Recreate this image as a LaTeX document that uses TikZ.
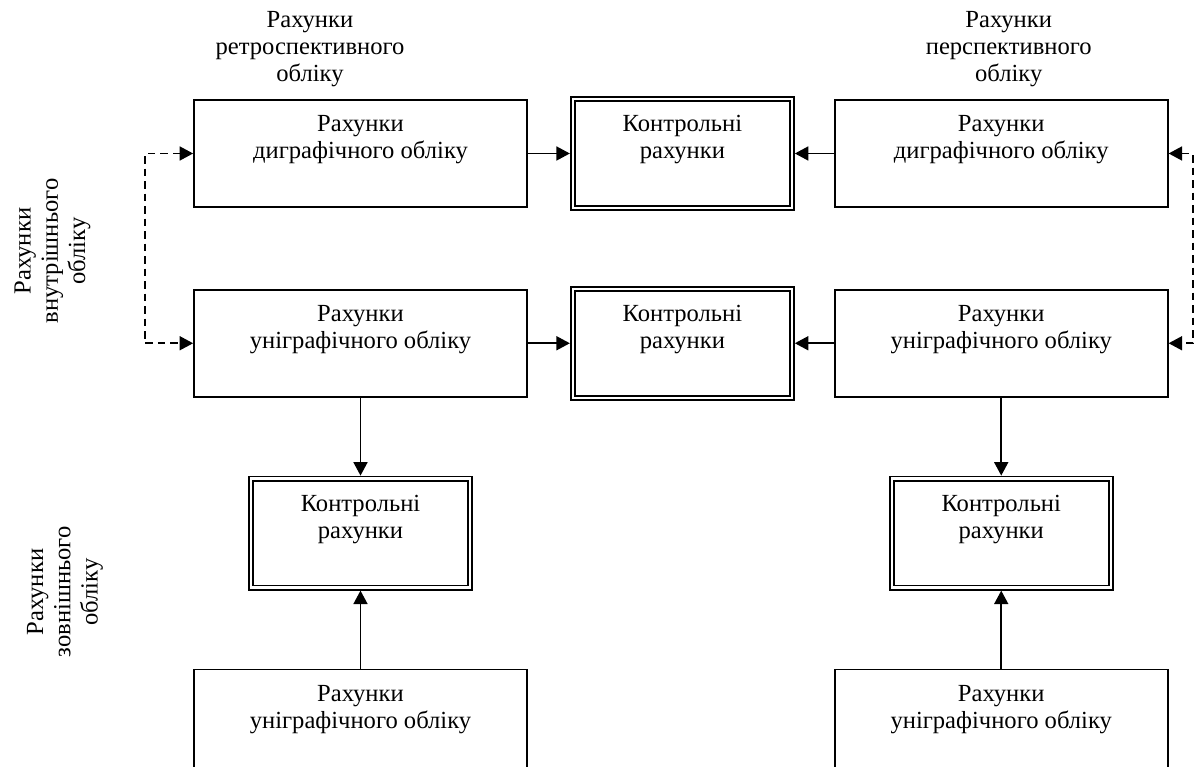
\documentclass[tikz,border=0pt]{standalone}
\usepackage{fontspec}
\setmainfont{Liberation Serif}
\usepackage{tikz}
\usetikzlibrary{arrows.meta}
\usetikzlibrary{positioning}
\tikzset{
  acctbox/.style={
    draw,
    line width=1pt,
    minimum width=6.66cm,
    minimum height=2.14cm
  },
  ctrlbox/.style={
    draw,
    line width=1pt,
    double,
    double distance=1.4pt,
    outer sep=1.7pt,
    minimum width=4.38cm,
    minimum height=2.18cm
  },
  myarrow/.style={
    line width=1pt,
    -{Triangle[length=0.27cm, width=0.28cm]}
  },
  dasharrow/.style={
    line width=1pt,
    dash pattern=on 0.15cm off 0.1cm,
    {Triangle[length=0.27cm, width=0.28cm]}-{Triangle[length=0.27cm, width=0.28cm]}
  }
}

\begin{document}
\begin{tikzpicture}[font=\fontsize{14}{15.5}\selectfont]

\useasboundingbox (0,0) rectangle (23.98,-15.34);

% Retrospective accounts
\node [acctbox] at (7.21,-3.07) (retrodi)
    {\begin{tabular}{c} Рахунки \\ диграфічного обліку \\ \mbox{} \end{tabular}};

\node [ctrlbox,
    right=0.84cm of retrodi
]  (ctrltop) {\begin{tabular}{c} Контрольні \\ рахунки \\ \mbox{} \end{tabular}};

\node [acctbox,
    right=0.78cm of ctrltop
]  (perspdi) {\begin{tabular}{c} Рахунки \\ диграфічного обліку \\ \mbox{} \end{tabular}};

\node [acctbox,
    below=1.62cm of retrodi
]  (retrouni) {\begin{tabular}{c} Рахунки \\ уніграфічного обліку \\ \mbox{} \end{tabular}};

\node [ctrlbox,
    right=0.84cm of retrouni
]  (ctrlmid) {\begin{tabular}{c} Контрольні \\ рахунки \\ \mbox{} \end{tabular}};

\node [acctbox,
    right=0.78cm of ctrlmid
]  (perspuni) {\begin{tabular}{c} Рахунки \\ уніграфічного обліку \\ \mbox{} \end{tabular}};

% External accounts
\node [ctrlbox,
    below=1.56cm of retrouni
]  (ctrlleft) {\begin{tabular}{c} Контрольні \\ рахунки \\ \mbox{} \end{tabular}};

\node [acctbox,
    below=1.56cm of ctrlleft
]  (extleft) {\begin{tabular}{c} Рахунки \\ уніграфічного обліку \\ \mbox{} \end{tabular}};

\node [ctrlbox,
    below=1.56cm of perspuni
]  (ctrlright) {\begin{tabular}{c} Контрольні \\ рахунки \\ \mbox{} \end{tabular}};

\node [acctbox,
    below=1.56cm of ctrlright
]  (extright) {\begin{tabular}{c} Рахунки \\ уніграфічного обліку \\ \mbox{} \end{tabular}};

% Headings
\node [inner sep=0pt,
    above=0.18cm of retrodi,
    xshift=-1.01cm
]  (retrohead) {\begin{tabular}{c} Рахунки \\ ретроспективного \\ обліку \end{tabular}};

\node [inner sep=0pt,
    above=0.18cm of perspdi,
    xshift=0.15cm
]  (persphead) {\begin{tabular}{c} Рахунки \\ перспективного \\ обліку \end{tabular}};

\node [rotate=90] at (1.05,-5.02) (inthead)
    {\begin{tabular}{c} Рахунки \\ внутрішнього \\ обліку \end{tabular}};

\node [rotate=90] at (1.3,-11.84) (exthead)
    {\begin{tabular}{c} Рахунки \\ зовнішнього \\ обліку \end{tabular}};

% Arrows
\draw[myarrow] (retrodi.east) -- (ctrltop.west);
\draw[myarrow] (perspdi.west) -- (ctrltop.east);
\draw[myarrow] (retrouni.east) -- (ctrlmid.west);
\draw[myarrow] (perspuni.west) -- (ctrlmid.east);

\draw[myarrow] (retrouni.south) -- (ctrlleft.north);
\draw[myarrow] (extleft.north) -- (ctrlleft.south);
\draw[myarrow] (perspuni.south) -- (ctrlright.north);
\draw[myarrow] (extright.north) -- (ctrlright.south);

\draw[dasharrow] (retrodi.west) -- ++(-0.96,0) |- (retrouni.west);
\draw[dasharrow] (perspdi.east) -- ++(0.48,0) |- (perspuni.east);

\end{tikzpicture}
\end{document}
